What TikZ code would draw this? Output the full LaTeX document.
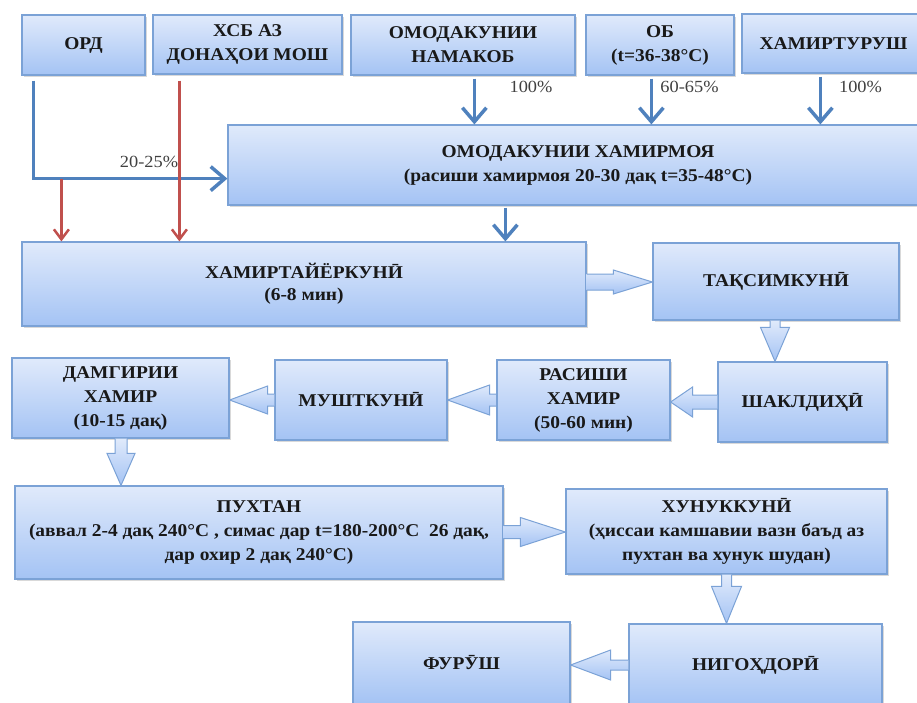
\documentclass[tikz,border=0pt]{standalone}
\usepackage{fontspec}
\setmainfont{Liberation Serif}
\newfontfamily\boxfont[FakeStretch=1.08]{Liberation Serif}
\usetikzlibrary{arrows.meta,calc,shadows}
\definecolor{boxtop}{HTML}{E0EAFB}
\definecolor{boxbot}{HTML}{A4C3F4}
\definecolor{boxline}{HTML}{7BA2D6}
\definecolor{lineblue}{HTML}{4F81BD}
\definecolor{linered}{HTML}{C0504D}
\tikzset{
 box/.style={draw=boxline, line width=1.2pt, top color=boxtop, bottom color=boxbot,
   rectangle, inner sep=2pt, align=center, text=black!90,
   font=\boxfont\bfseries\fontsize{18}{24}\selectfont,
   drop shadow={shadow xshift=1.5pt, shadow yshift=-1.5pt, opacity=0.3}},
 blockarr/.style={draw=boxline, line width=1pt, top color=boxtop, bottom color=boxbot, line join=miter},
 bline/.style={draw=lineblue, line width=3.5pt, -{Straight Barb[length=14pt,width=24pt]}},
 rline/.style={draw=linered, line width=2.5pt, -{Straight Barb[length=10pt,width=15pt]}},
 pct/.style={font=\boxfont\fontsize{17}{18}\selectfont, text=black!75, inner sep=0pt},
}
% horizontal block arrow: start, end, shaft half, head half, head length
\newcommand\harrow[5]{%
 \draw[blockarr] let \p1=(#1), \p2=(#2), \n1={sign(\x2-\x1)} in
  (\x1,\y1+#3pt) -- (\x2-\n1*#5pt,\y1+#3pt) -- (\x2-\n1*#5pt,\y1+#4pt) -- (\x2,\y1)
  -- (\x2-\n1*#5pt,\y1-#4pt) -- (\x2-\n1*#5pt,\y1-#3pt) -- (\x1,\y1-#3pt);}
% vertical block arrow
\newcommand\varrow[5]{%
 \draw[blockarr] let \p1=(#1), \p2=(#2), \n1={sign(\y2-\y1)} in
  (\x1+#3pt,\y1) -- (\x1+#3pt,\y2-\n1*#5pt) -- (\x1+#4pt,\y2-\n1*#5pt) -- (\x1,\y2)
  -- (\x1-#4pt,\y2-\n1*#5pt) -- (\x1-#3pt,\y2-\n1*#5pt) -- (\x1-#3pt,\y1);}
\begin{document}
\begin{tikzpicture}[x=1pt,y=-1pt]
\useasboundingbox (0,0) rectangle (917,702);
% top row
\node[box, minimum width=123pt, minimum height=60pt] (ord) at (83.5,45) {ОРД};
\node[box, minimum width=189pt, minimum height=59pt] (xsb) at (247.5,44.5) {ХСБ АЗ\\ДОНАҲОИ МОШ};
\node[box, minimum width=224pt, minimum height=60pt] (nam) at (463,45) {ОМОДАКУНИИ\\НАМАКОБ};
\node[box, minimum width=148pt, minimum height=60pt] (ob) at (660,45) {ОБ\\(t=36-38°C)};
\node[box, minimum width=183pt, minimum height=59pt] (xt) at (833.5,43.5) {ХАМИРТУРУШ};
% main boxes
\node[box, minimum width=700pt, minimum height=80pt] (xm) at (578,165) {ОМОДАКУНИИ ХАМИРМОЯ\\(расиши хамирмоя 20-30 дақ t=35-48°C)};
\node[box, minimum width=564pt, minimum height=84pt, font=\boxfont\bfseries\fontsize{18}{22}\selectfont] (xty) at (304,284) {ХАМИРТАЙЁРКУНӢ\\(6-8 мин)};
\node[box, minimum width=246pt, minimum height=77pt] (taq) at (776,281.5) {ТАҚСИМКУНӢ};
\node[box, minimum width=169pt, minimum height=80pt] (shak) at (802.5,402) {ШАКЛДИҲӢ};
\node[box, minimum width=173pt, minimum height=80pt] (ras) at (583.5,400) {РАСИШИ\\ХАМИР\\(50-60 мин)};
\node[box, minimum width=172pt, minimum height=80pt] (musht) at (361,400) {МУШТКУНӢ};
\node[box, minimum width=217pt, minimum height=80pt] (dam) at (120.5,398) {ДАМГИРИИ\\ХАМИР\\(10-15 дақ)};
\node[box, minimum width=488pt, minimum height=93pt] (pux) at (259,532.5) {ПУХТАН\\(аввал 2-4 дақ 240°C , симас дар t=180-200°C~~26 дақ,\\дар охир 2 дақ 240°C)};
\node[box, minimum width=321pt, minimum height=85pt] (xun) at (726.5,531.5) {ХУНУККУНӢ\\(ҳиссаи камшавии вазн баъд аз\\пухтан ва хунук шудан)};
\node[box, minimum width=253pt, minimum height=82pt] (nig) at (755.5,665) {НИГОҲДОРӢ};
\node[box, minimum width=217pt, minimum height=82pt] (fur) at (461.5,663) {ФУРӮШ};
% line connectors
\coordinate (bend) at ($(ord.south west)+(12,103)$);
\draw[bline] ($(ord.south west)+(12,5)$) -- (bend) -- (bend -| xm.west);
\node[pct] (l2025) at (149,162) {20-25\%};
\coordinate (r1) at ($(bend)+(28,0)$);
\coordinate (r2) at ($(xsb.south west)+(27,6)$);
\draw[rline] (r1) -- (r1 |- xty.north);
\draw[rline] (r2) -- (r2 |- xty.north);
\coordinate (n1) at ($(nam.south west)+(124,3)$);
\coordinate (n2) at ($(ob.south west)+(66,3)$);
\coordinate (n3) at ($(xt.south west)+(79,3)$);
\coordinate (m1) at ($(xm.south west)+(278,2)$);
\draw[bline] (n1) -- (n1 |- xm.north);
\draw[bline] (n2) -- (n2 |- xm.north);
\draw[bline] (n3) -- (n3 |- xm.north);
\draw[bline] (m1) -- (m1 |- xty.north);
\node[pct] (p1) at (531,87) {100\%};
\node[pct] (p2) at (689.5,87) {60-65\%};
\node[pct] (p3) at (860.5,87) {100\%};
% block arrows
\harrow{$(xty.east)+(0,-2)$}{taq.west}{8}{12}{39}
\varrow{$(taq.south)+(-1,0)$}{shak.north}{5}{14.5}{34}
\harrow{shak.west}{ras.east}{7}{15}{22}
\harrow{ras.west}{musht.east}{6}{15}{42}
\harrow{musht.west}{dam.east}{6}{14}{38}
\varrow{$(dam.south)+(0.5,0)$}{pux.north}{6}{14}{32}
\harrow{$(pux.east)+(0,-0.5)$}{xun.west}{6.5}{14.5}{45}
\varrow{xun.south}{nig.north}{5}{15}{37}
\harrow{nig.west}{fur.east}{5}{15}{40}
\end{tikzpicture}
\end{document}
